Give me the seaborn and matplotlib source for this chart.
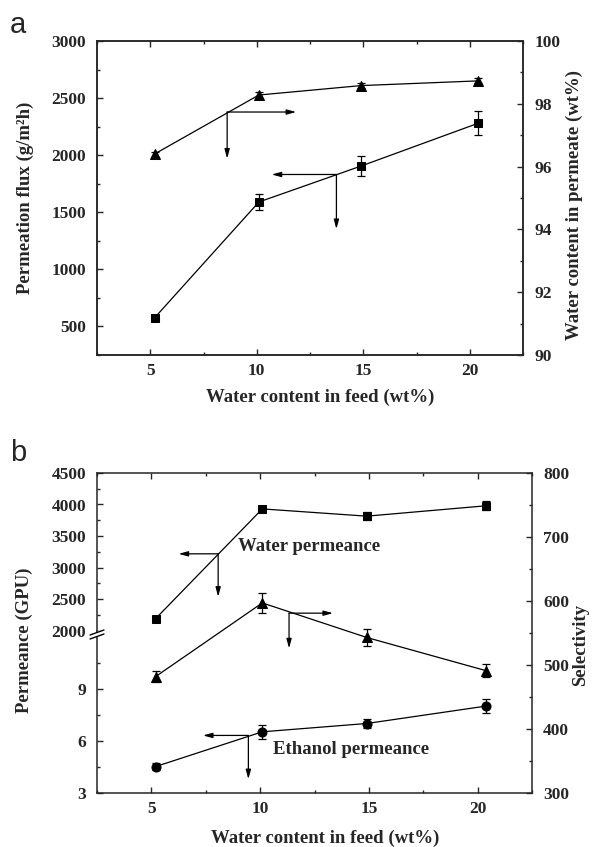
import seaborn as sns
import matplotlib.pyplot as plt
import matplotlib.ticker as mticker
from matplotlib.lines import Line2D
from matplotlib.patches import Polygon

# ---------------------------
# Data
# ---------------------------
feed = [5.2, 10.1, 14.9, 20.4]          # water content in feed (wt%)

# panel a
flux = [575, 1590, 1905, 2280]          # permeation flux (g/m2h)
flux_err = [25, 70, 90, 105]
permeate = [96.4, 98.28, 98.58, 98.73]  # water content in permeate (wt%)
permeate_err = [0.08, 0.08, 0.08, 0.08]

# panel b
water_perm = [2190, 3930, 3815, 3980]   # GPU
water_err = [30, 50, 60, 70]
ethanol_perm = [4.53, 6.54, 7.02, 8.03] # GPU
ethanol_err = [0.2, 0.4, 0.25, 0.4]
selectivity = [482, 597, 543, 491]
select_err = [8, 16, 14, 10]

# ---------------------------
# Styling
# ---------------------------
sns.set_style("ticks")
plt.rcParams["font.family"] = ["Liberation Serif", "DejaVu Serif"]
plt.rcParams["font.weight"] = "bold"
plt.rcParams["axes.linewidth"] = 1.1

W, H = 592, 847
LAB = 13.5   # axis label size
TCK = 12.5   # tick label size
fig = plt.figure(figsize=(W / 100, H / 100), dpi=100)


def box(x0, y0, x1, y1):
    # pixel box (top-left origin) -> figure fraction
    return [x0 / W, 1 - y1 / H, (x1 - x0) / W, (y1 - y0) / H]


def style_ticks(ax, right=False):
    ax.tick_params(which="both", direction="in", labelsize=TCK, width=1,
                   top=False, right=right, left=not right)
    ax.tick_params(which="major", length=4)
    ax.tick_params(which="minor", length=2.5)
    ax.tick_params(axis="y", pad=8)
    ax.tick_params(axis="x", pad=6)
    for lab in ax.get_xticklabels() + ax.get_yticklabels():
        lab.set_fontweight("bold")


def series(ax, y, err, marker, ms):
    sns.lineplot(x=feed, y=y, ax=ax, color="black", marker=marker,
                 markersize=ms, markeredgecolor="black", linewidth=0.9,
                 legend=False)
    ax.errorbar(feed, y, yerr=err, fmt="none", ecolor="black",
                elinewidth=0.9, capsize=2.8, capthick=0.9)


def bent_arrow(ax, corner, x_end, y_end):
    ap = dict(arrowstyle="-|>,head_length=0.55,head_width=0.15",
              color="black", lw=0.9, shrinkA=0, shrinkB=0)
    ax.annotate("", xy=(x_end, corner[1]), xytext=corner, arrowprops=ap)
    ax.annotate("", xy=(corner[0], y_end), xytext=corner, arrowprops=ap)


def top_ticks(ax):
    ax.tick_params(axis="x", which="both", top=True, length=2)
    ax.tick_params(axis="x", which="major", length=4)


# ---------------------------
# Panel a
# ---------------------------
ax_a = fig.add_axes(box(97, 41, 523, 355))
ax_a2 = ax_a.twinx()
series(ax_a, flux, flux_err, "s", 6)
series(ax_a2, permeate, permeate_err, "^", 6.5)

ax_a.set_xlim(2.5, 22.5)
ax_a.set_ylim(250, 3000)
ax_a2.set_ylim(90, 100)
ax_a.xaxis.set_major_locator(mticker.FixedLocator([5, 10, 15, 20]))
ax_a.xaxis.set_minor_locator(mticker.MultipleLocator(2.5))
ax_a.yaxis.set_major_locator(mticker.MultipleLocator(500))
ax_a.yaxis.set_minor_locator(mticker.MultipleLocator(250))
ax_a2.yaxis.set_major_locator(mticker.MultipleLocator(2))
ax_a2.yaxis.set_minor_locator(mticker.MultipleLocator(1))
ax_a.set_xlabel("")
ax_a.set_ylabel("")
ax_a2.set_ylabel("")
style_ticks(ax_a)
style_ticks(ax_a2, right=True)
ax_a.tick_params(axis="x", which="both", bottom=True)
top_ticks(ax_a)

bent_arrow(ax_a, (8.61, 2378), 11.85, 1970)
bent_arrow(ax_a, (13.74, 1831), 10.7, 1353)

fig.text(18 / W, 1 - 25 / H, "a", fontsize=21, family="Liberation Sans",
         fontweight="normal", ha="center", va="center")
fig.text(25 / W, 1 - 198 / H, "Permeation flux (g/m²h)", rotation=90,
         fontsize=LAB, ha="center", va="center")
fig.text(574 / W, 1 - 205 / H, "Water content in permeate (wt%)",
         rotation=90, fontsize=LAB, ha="center", va="center")
fig.text(320 / W, 1 - 397 / H, "Water content in feed (wt%)",
         fontsize=LAB, ha="center", va="center")

# ---------------------------
# Panel b (broken left axis)
# ---------------------------
xl, xr, yt, yb, ybrk = 97, 532, 473, 793, 630.5
ax_bt = fig.add_axes(box(xl, yt, xr, ybrk))
ax_bb = fig.add_axes(box(xl, ybrk, xr, yb))
ax_br = fig.add_axes(box(xl, yt, xr, yb))
ax_br.patch.set_visible(False)

series(ax_bt, water_perm, water_err, "s", 6)
series(ax_bb, ethanol_perm, ethanol_err, "o", 6.5)
series(ax_br, selectivity, select_err, "^", 6.5)

for ax in (ax_bt, ax_bb, ax_br):
    ax.set_xlim(2.5, 22.5)
    ax.set_xlabel("")
    ax.set_ylabel("")
    ax.xaxis.set_major_locator(mticker.FixedLocator([5, 10, 15, 20]))
    ax.xaxis.set_minor_locator(mticker.MultipleLocator(2.5))

ax_bt.set_ylim(2000, 4500)
ax_bt.yaxis.set_major_locator(mticker.MultipleLocator(500))
ax_bt.yaxis.set_minor_locator(mticker.MultipleLocator(250))
ax_bb.set_ylim(3, 12.4)
ax_bb.yaxis.set_major_locator(mticker.FixedLocator([3, 6, 9]))
ax_bb.yaxis.set_minor_locator(mticker.FixedLocator([4.5, 7.5, 10.5]))
ax_br.set_ylim(300, 800)
ax_br.yaxis.set_major_locator(mticker.MultipleLocator(100))
ax_br.yaxis.set_minor_locator(mticker.MultipleLocator(50))

ax_bt.spines["bottom"].set_visible(False)
ax_bt.spines["right"].set_visible(False)
ax_bb.spines["top"].set_visible(False)
ax_bb.spines["right"].set_visible(False)
for s in ("left", "top", "bottom"):
    ax_br.spines[s].set_visible(False)
ax_br.yaxis.tick_right()

style_ticks(ax_bt)
style_ticks(ax_bb)
style_ticks(ax_br, right=True)
ax_bt.tick_params(axis="x", which="both", bottom=False, labelbottom=False)
top_ticks(ax_bt)
ax_br.tick_params(axis="x", which="both", bottom=False, labelbottom=False)

bent_arrow(ax_bt, (8.07, 3217), 6.25, 2536)
bent_arrow(ax_br, (11.33, 581), 13.35, 526)
bent_arrow(ax_bb, (9.46, 6.33), 7.37, 3.8)

ax_bt.text(12.27, 3333, "Water permeance", fontsize=LAB,
           ha="center", va="center")
ax_bb.text(14.16, 5.49, "Ethanol permeance", fontsize=LAB,
           ha="center", va="center")

# break marks on the left spine
yc = ybrk + 2
p1 = [(xl - 7, yc + 2.5), (xl + 7, yc - 2.5)]
p2 = [(xl - 7, yc + 6.5), (xl + 7, yc + 1.5)]
to_fig = lambda pts: [(x / W, 1 - y / H) for x, y in pts]
gap = Polygon(to_fig([p1[0], p1[1], p2[1], p2[0]]), closed=True,
              facecolor="white", edgecolor="none", transform=fig.transFigure,
              zorder=10)
fig.add_artist(gap)
for p in (p1, p2):
    pts = to_fig(p)
    fig.add_artist(Line2D([pts[0][0], pts[1][0]], [pts[0][1], pts[1][1]],
                          color="black", lw=1, transform=fig.transFigure,
                          zorder=11))

fig.text(18 / W, 1 - 453 / H, "b", fontsize=21, family="Liberation Sans",
         fontweight="normal", ha="center", va="center")
fig.text(24 / W, 1 - 640 / H, "Permeance (GPU)", rotation=90,
         fontsize=LAB, ha="center", va="center")
fig.text(581 / W, 1 - 645 / H, "Selectivity", rotation=90,
         fontsize=LAB, ha="center", va="center")
fig.text(325 / W, 1 - 838 / H, "Water content in feed (wt%)",
         fontsize=LAB, ha="center", va="center")

fig.savefig("out.png", dpi=100)
plt.close(fig)
